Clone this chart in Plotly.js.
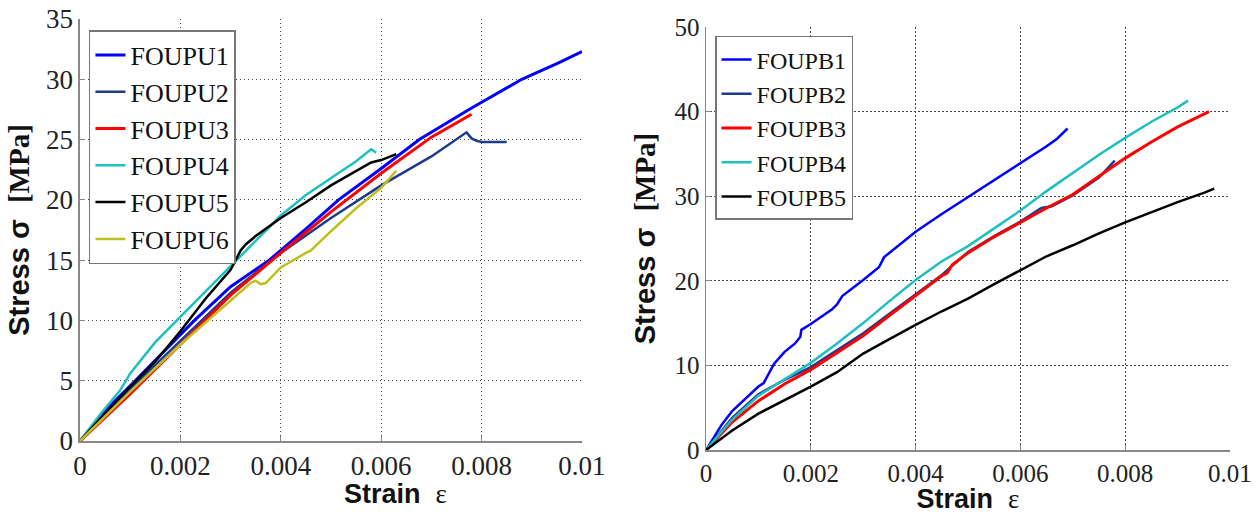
<!DOCTYPE html>
<html>
<head>
<meta charset="utf-8">
<script src="https://cdn.plot.ly/plotly-3.0.1.min.js"></script>
<style>html,body{margin:0;padding:0;background:#fff;}#chart{width:1258px;height:514px;}</style>
</head>
<body>
<div id="chart"></div>
<script>
// ---- Left panel: FOUPU specimens (strain, stress MPa) ----
const u1_x = [0,0.0005,0.0011,0.0017,0.00228,0.003,0.00377,0.0045,0.00515,0.006,0.00676,0.00775,0.0088,0.0095,0.01];
const u1_y = [0,2.5,5,7.5,10,12.8,15,17.6,20,22.6,25,27.5,30,31.3,32.3];
const u2_x = [0,0.001,0.002,0.003,0.004,0.005,0.006,0.007,0.0077,0.0078,0.0079,0.008,0.0085];
const u2_y = [0,4.3,8.3,12.3,15.6,18.5,21.2,23.6,25.6,25.1,24.9,24.8,24.8];
const u3_x = [0,0.001,0.002,0.003,0.004,0.005,0.006,0.007,0.0078];
const u3_y = [0,3.9,8.0,12.1,15.6,19.0,22.2,25.2,27.1];
const u4_x = [0,0.0004,0.0008,0.001,0.0015,0.002,0.0025,0.003,0.0035,0.004,0.0045,0.005,0.0055,0.0058,0.0059];
const u4_y = [0,2.2,4.2,5.6,8.2,10.3,12.4,14.5,16.6,18.7,20.4,21.8,23.2,24.2,23.9];
const u5_x = [0,0.0005,0.001,0.0015,0.002,0.0025,0.003,0.0032,0.0033,0.0035,0.004,0.0045,0.005,0.0055,0.0058,0.006,0.0062,0.0063];
const u5_y = [0,2.3,4.5,6.6,9.1,11.8,14.2,15.8,16.3,17.0,18.5,19.8,21.2,22.4,23.1,23.3,23.6,23.8];
const u6_x = [0,0.001,0.002,0.0025,0.003,0.0034,0.0035,0.0036,0.0037,0.004,0.0045,0.0046,0.005,0.0055,0.006,0.0063];
const u6_y = [0,4.1,8.0,9.8,11.6,13.1,13.3,13.0,13.1,14.4,15.6,15.8,17.4,19.3,21.0,22.4];
const leftNames = ['FOUPU1','FOUPU2','FOUPU3','FOUPU4','FOUPU5','FOUPU6'];

// ---- Right panel: FOUPB specimens ----
const b1_x = [0,0.0003,0.0005,0.0008,0.001,0.0011,0.0013,0.0015,0.0017,0.0018,0.00182,0.002,0.0024,0.0025,0.0026,0.003,0.0033,0.0034,0.0035,0.004,0.0045,0.005,0.0055,0.006,0.0065,0.0067,0.0069];
const b1_y = [0,3.0,4.6,6.3,7.5,7.9,10.2,11.6,12.6,13.4,14.2,14.9,16.6,17.2,18.2,20.1,21.6,22.8,23.3,25.8,27.9,29.9,31.8,33.9,35.9,36.8,38.0];
const b2_x = [0,0.0005,0.001,0.0015,0.002,0.0025,0.003,0.0035,0.004,0.0045,0.005,0.0055,0.006,0.0064,0.0066,0.007,0.0075,0.0078];
const b2_y = [0,3.8,6.6,8.3,9.8,11.8,13.8,16.1,18.4,20.7,23.4,25.3,27.0,28.6,28.8,30.1,32.2,34.2];
const b3_x = [0,0.0005,0.001,0.0015,0.002,0.0025,0.003,0.0035,0.004,0.0045,0.0046,0.0047,0.005,0.0055,0.006,0.0065,0.007,0.0075,0.008,0.0085,0.009,0.0096];
const b3_y = [0,3.3,5.8,7.8,9.5,11.5,13.5,15.9,18.2,20.6,20.9,21.9,23.3,25.2,26.9,28.6,30.2,32.3,34.5,36.4,38.2,40.0];
const b4_x = [0,0.0005,0.001,0.0015,0.002,0.0025,0.003,0.0035,0.004,0.0045,0.005,0.0055,0.006,0.0065,0.007,0.0075,0.008,0.0085,0.009,0.0092];
const b4_y = [0,3.6,6.4,8.4,10.3,12.6,15.0,17.6,20.1,22.3,24.1,26.2,28.3,30.6,32.8,34.9,36.9,38.8,40.5,41.3];
const b5_x = [0,0.0005,0.001,0.0015,0.002,0.0025,0.003,0.0035,0.004,0.0045,0.005,0.0055,0.006,0.0065,0.007,0.0075,0.008,0.0085,0.009,0.0095,0.0097];
const b5_y = [0,2.3,4.3,5.9,7.5,9.2,11.4,13.1,14.8,16.4,17.9,19.6,21.3,22.9,24.2,25.6,26.9,28.1,29.3,30.4,30.9];
const rightNames = ['FOUPB1','FOUPB2','FOUPB3','FOUPB4','FOUPB5'];

const xTickVals = [0,0.002,0.004,0.006,0.008,0.01];
const xTickText = ['0','0.002','0.004','0.006','0.008','0.01'];
const leftYTicks = [0,5,10,15,20,25,30,35];
const rightYTicks = [0,10,20,30,40,50];

const cBlue='#0000ff', cNavy='#1c3a8e', cRed='#ff0000', cCyan='#1fbfbf', cBlack='#000000', cOlive='#bfbf1f';

function tr(x,y,name,color,width,xa,ya,leg){
  return {x:x,y:y,name:name,type:'scatter',mode:'lines',line:{color:color,width:width},xaxis:xa,yaxis:ya,legend:leg,hoverinfo:'skip'};
}
const data = [
  tr(u1_x,u1_y,leftNames[0],cBlue,3,'x','y','legend'),
  tr(u2_x,u2_y,leftNames[1],cNavy,2.5,'x','y','legend'),
  tr(u3_x,u3_y,leftNames[2],cRed,3,'x','y','legend'),
  tr(u4_x,u4_y,leftNames[3],cCyan,2.5,'x','y','legend'),
  tr(u5_x,u5_y,leftNames[4],cBlack,2.5,'x','y','legend'),
  tr(u6_x,u6_y,leftNames[5],cOlive,2.5,'x','y','legend'),
  tr(b1_x,b1_y,rightNames[0],cBlue,2.5,'x2','y2','legend2'),
  tr(b2_x,b2_y,rightNames[1],cNavy,2.5,'x2','y2','legend2'),
  tr(b3_x,b3_y,rightNames[2],cRed,3,'x2','y2','legend2'),
  tr(b4_x,b4_y,rightNames[3],cCyan,2.5,'x2','y2','legend2'),
  tr(b5_x,b5_y,rightNames[4],cBlack,2.5,'x2','y2','legend2')
];

const serif = 'Liberation Serif';
const tickFontL = {family:serif, size:27, color:'#222'};
const tickFontR = {family:serif, size:25, color:'#222'};
const xTitleFont = {family:'Liberation Sans', size:27, color:'#111', weight:'bold'};
const yTitleFont = {family:'Liberation Sans', size:29, color:'#111', weight:'bold'};
const xTitleText = '<b>Strain</b>&nbsp;&nbsp;<span style="font-family:Liberation Serif;font-weight:normal">ε</span>';
const yTitleText = '<b>Stress σ&nbsp;&nbsp;<span style="font-family:Liberation Serif">[MPa]</span></b>';
const gridDash = '1.5px,2.5px';

function xAxis(domain, anchor, showTitle, tf){
  return {domain:domain, anchor:anchor, range:[0,0.01], tickvals:xTickVals, ticktext:xTickText,
    showgrid:true, gridcolor:'#444', griddash:gridDash, gridwidth:1.2,
    showline:true, linecolor:'#888', linewidth:1.5, zeroline:false,
    ticks:'inside', ticklen:5, tickcolor:'#888', tickfont:tf,
    title: showTitle ? {text:xTitleText, font:xTitleFont, standoff:10} : {text:''}};
}
function yAxis(domain, anchor, range, tv, tf, standoff){
  return {domain:domain, anchor:anchor, range:range, tickvals:tv,
    showgrid:true, gridcolor:'#444', griddash:gridDash, gridwidth:1.2,
    showline:true, linecolor:'#888', linewidth:1.5, zeroline:false,
    ticks:'inside', ticklen:5, tickcolor:'#888', tickfont:tf,
    title:{text:yTitleText, font:yTitleFont, standoff:standoff}};
}

const layout = {
  width:1258, height:514,
  margin:{l:0,r:0,t:0,b:0},
  paper_bgcolor:'#fff', plot_bgcolor:'#fff',
  showlegend:true,
  xaxis: xAxis([0.06359,0.46264],'y',false,tickFontL),
  yaxis: yAxis([0.14202,0.96304],'x',[0,35],leftYTicks,tickFontL,8),
  xaxis2: xAxis([0.56121,0.97774],'y2',true,tickFontR),
  yaxis2: yAxis([0.12451,0.94747],'x2',[0,50],rightYTicks,tickFontR,10),
  legend:{x:0.0707,y:0.9416,xanchor:'left',yanchor:'top',bgcolor:'#fff',bordercolor:'#777',borderwidth:1.5,
    font:{family:serif,size:26,color:'#111'},tracegroupgap:0},
  legend2:{x:0.5684,y:0.930,xanchor:'left',yanchor:'top',bgcolor:'#fff',bordercolor:'#777',borderwidth:1.5,
    font:{family:serif,size:24,color:'#111'},tracegroupgap:0},
  annotations:[
    {text:xTitleText, xref:'paper',yref:'paper',x:0.314,y:0.039,xanchor:'center',yanchor:'middle',showarrow:false,font:xTitleFont}
  ]
};

Plotly.newPlot('chart', data, layout, {staticPlot:true, displayModeBar:false});
</script>
</body>
</html>
